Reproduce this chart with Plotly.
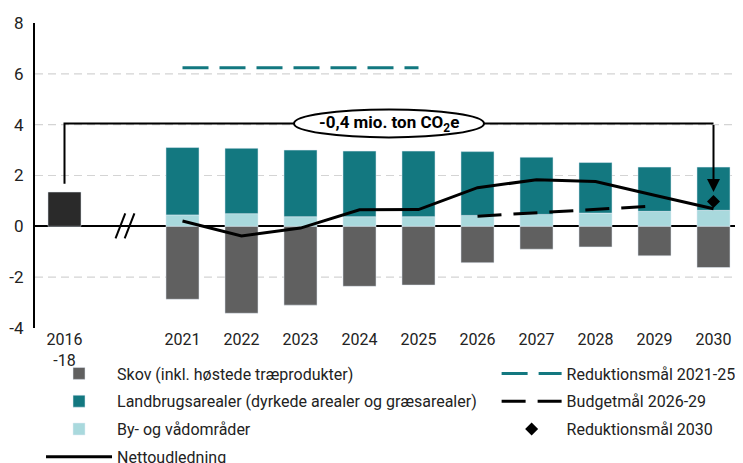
import plotly.graph_objects as go

# ---------------- data ----------------
categories = ["2016<br>-18", " ", "2021", "2022", "2023", "2024", "2025",
              "2026", "2027", "2028", "2029", "2030"]
years = ["2021", "2022", "2023", "2024", "2025", "2026", "2027", "2028", "2029", "2030"]

base_label = ["2016<br>-18"]
base_value = [1.35]

skov = [-2.87, -3.42, -3.10, -2.36, -2.31, -1.43, -0.90, -0.81, -1.16, -1.62]
by_vaad = [0.45, 0.50, 0.38, 0.38, 0.38, 0.43, 0.47, 0.52, 0.59, 0.63]
landbrug = [2.65, 2.57, 2.62, 2.58, 2.58, 2.51, 2.25, 1.99, 1.74, 1.70]
netto = [0.21, -0.38, -0.07, 0.65, 0.66, 1.52, 1.83, 1.76, 1.22, 0.69]

red_2125_years = ["2021", "2022", "2023", "2024", "2025"]
red_2125 = [6.24, 6.24, 6.24, 6.24, 6.24]
budget_years = ["2026", "2027", "2028", "2029"]
budget = [0.40, 0.53, 0.67, 0.80]
red_2030_years = ["2030"]
red_2030 = [0.98]

y_ticks = [-4, -2, 0, 2, 4, 6, 8]
y_ticktext = ["-4", "-2", "0", "2", "4", "6", "8"]
grid_vals = [-2, 2, 4, 6]

# bracket / annotation values
bracket_level = 4.05
bracket_start = 1.68
arrow_end = 1.35
label_text = "<b>-0,4 mio. ton CO<sub>2</sub>e</b>"

# ---------------- style ----------------
FONT = "Roboto, sans-serif"
TEAL = "#137880"
LIGHT = "#a9d9dd"
GREY = "#606060"
DARK = "#2a2a2a"

fig = go.Figure()

fig.add_trace(go.Bar(x=base_label, y=base_value, marker_color=DARK, width=0.56,
                     showlegend=False, hoverinfo="skip"))
fig.add_trace(go.Bar(x=years, y=skov, name="Skov (inkl. høstede træprodukter)",
                     marker_color=GREY, width=0.56, legend="legend", legendrank=1,
                     legendgroup="a"))
fig.add_trace(go.Bar(x=years, y=by_vaad, name="By- og vådområder",
                     marker_color=LIGHT, width=0.56, legend="legend", legendrank=3,
                     legendgroup="c"))
fig.add_trace(go.Bar(x=years, y=landbrug,
                     name="Landbrugsarealer (dyrkede arealer og græsarealer)",
                     marker_color=TEAL, width=0.56, legend="legend", legendrank=2,
                     legendgroup="b"))
fig.add_trace(go.Scatter(x=years, y=netto, name="Nettoudledning", mode="lines",
                         line=dict(color="black", width=3), legend="legend",
                         legendrank=4, legendgroup="d"))
fig.add_trace(go.Scatter(x=red_2125_years, y=red_2125, name="Reduktionsmål 2021-25",
                         mode="lines",
                         line=dict(color=TEAL, width=3, dash="26px,11px"),
                         legend="legend2", legendrank=1, legendgroup="e"))
fig.add_trace(go.Scatter(x=budget_years, y=budget, name="Budgetmål 2026-29",
                         mode="lines",
                         line=dict(color="black", width=3, dash="24px,12px"),
                         legend="legend2", legendrank=2, legendgroup="f"))
fig.add_trace(go.Scatter(x=red_2030_years, y=red_2030, name="Reduktionsmål 2030",
                         mode="markers",
                         marker=dict(symbol="diamond", color="black", size=10),
                         legend="legend2", legendrank=3, legendgroup="g"))

# gridlines
for g in grid_vals:
    fig.add_hline(y=g, line=dict(color="#d4d4d4", width=1.2, dash="8px,5px"),
                  layer="below")

# axis break marks "//"
fig.add_shape(type="line", xref="x", yref="y", x0=0.865, y0=-0.47, x1=1.03, y1=0.51,
              line=dict(color="black", width=2))
fig.add_shape(type="line", xref="x", yref="y", x0=1.02, y0=-0.47, x1=1.185, y1=0.51,
              line=dict(color="black", width=2))

# bracket
fig.add_shape(type="path", xref="x", yref="y",
              path=f"M 0,{bracket_start} L 0,{bracket_level} L 11,{bracket_level}",
              line=dict(color="black", width=2))
fig.add_annotation(x=11, y=arrow_end, ax=11, ay=bracket_level, xref="x", yref="y",
                   axref="x", ayref="y", text="", showarrow=True, arrowhead=2,
                   arrowsize=1.3, arrowwidth=2, arrowcolor="black", standoff=0)
fig.add_shape(type="circle", xref="x", yref="y", xsizemode="pixel", ysizemode="pixel",
              xanchor=5.5, yanchor=bracket_level, x0=-95, x1=95, y0=-14, y1=14,
              line=dict(color="black", width=2), fillcolor="white")
fig.add_annotation(x=5.5, y=bracket_level, xref="x", yref="y", text=label_text,
                   showarrow=False, font=dict(family=FONT, size=17, color="black"))

# The page body has an 8px margin, so the figure is offset by 8px; compensate.
fig.update_layout(
    width=735, height=455,
    margin=dict(l=27, r=0, t=15, b=135, autoexpand=False),
    paper_bgcolor="white", plot_bgcolor="white",
    barmode="relative", bargap=0.44,
    font=dict(family=FONT, size=16, color="#222222"),
    xaxis=dict(type="category", categoryorder="array", categoryarray=categories,
               range=[-0.5, 11.5], showgrid=False, showline=False, ticks="",
               tickfont=dict(size=16), fixedrange=True),
    yaxis=dict(range=[-4, 8], tickvals=y_ticks, ticktext=y_ticktext, showgrid=False,
               zeroline=True, zerolinecolor="black", zerolinewidth=2,
               showline=True, linecolor="black", linewidth=2, ticks="",
               ticklabelstandoff=6, tickfont=dict(size=17)),
    legend=dict(x=0.0085, y=-0.0934, xanchor="left", yanchor="top", orientation="v",
                traceorder="grouped", itemwidth=66, font=dict(size=16),
                bgcolor="rgba(0,0,0,0)", tracegroupgap=4),
    legend2=dict(x=0.652, y=-0.0934, xanchor="left", yanchor="top", orientation="v",
                 traceorder="grouped", itemwidth=60, font=dict(size=16),
                 bgcolor="rgba(0,0,0,0)", tracegroupgap=4),
    showlegend=True,
)

fig.write_html("out.html")
